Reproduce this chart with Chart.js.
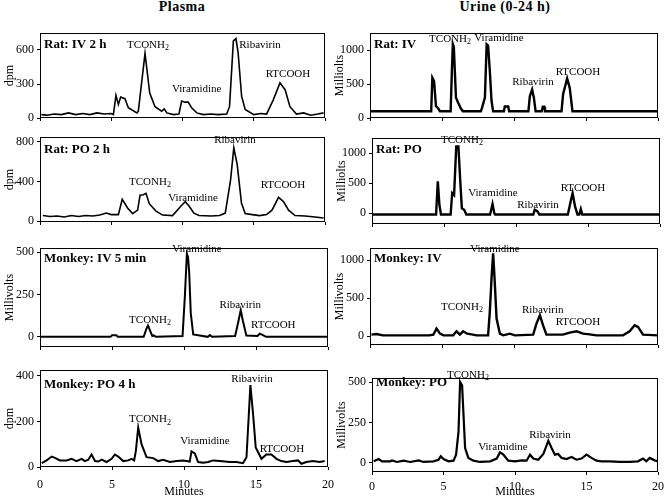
<!DOCTYPE html>
<html>
<head>
<meta charset="utf-8">
<script src="https://cdn.jsdelivr.net/npm/chart.js@4"></script>
<style>
  body { margin: 0; background: #fff; width: 664px; height: 498px; position: relative; overflow: hidden;
         font-family: "Liberation Serif", "Times New Roman", serif; }
  .col { position: absolute; top: 0; font-weight: bold; font-size: 14px; line-height: 14px;
         transform: translateX(-50%); letter-spacing: 0.5px; white-space: nowrap; }
  .panel { position: absolute; }
</style>
</head>
<body>
<div class="col" style="left:182px">Plasma</div>
<div class="col" style="left:505px">Urine (0-24 h)</div>
<script>
const FONT = "'Liberation Serif', 'Times New Roman', serif";

const minuteTicks = [0, 5, 10, 15, 20];
const peakNames = ["TCONH₂", "Viramidine", "Ribavirin", "RTCOOH"];

// Plasma, rat IV 2 h (dpm)
const ratIvPlasmaT = [0.1, 0.5, 1.0, 1.5, 2.0, 2.5, 3.0, 3.5, 4.0, 4.5, 5.0, 5.15, 5.33, 5.5, 5.66, 5.96, 6.2, 6.8, 6.9, 7.37,
  7.7, 8.07, 8.54, 8.72, 8.9, 9.36, 9.75, 9.94, 10.17, 10.4, 10.64, 11.0, 11.46, 12.0, 12.5, 13.1, 13.3, 13.57, 13.75, 13.9,
  14.15, 14.4, 15.0, 15.5, 15.9, 16.37, 16.84, 17.2, 17.54, 18.0, 18.5, 19.0, 19.5, 19.9];
const ratIvPlasmaV = [30, 25, 35, 30, 45, 30, 40, 30, 45, 35, 40, 30, 200, 120, 185, 170, 90, 45, 60, 570,
  220, 100, 60, 80, 45, 30, 35, 150, 140, 140, 90, 45, 30, 35, 30, 35, 100, 680, 700, 580,
  190, 75, 30, 40, 35, 160, 310, 250, 100, 35, 45, 25, 35, 45];
const ratIvPlasmaTicks = [0, 300, 600];

// Plasma, rat PO 2 h (dpm)
const ratPoPlasmaT = [0.2, 0.7, 1.2, 1.7, 2.2, 2.7, 3.2, 3.7, 4.2, 4.65, 5.0, 5.5, 5.77, 6.16, 6.5, 6.85, 7.02, 7.25, 7.44,
  7.67, 8.14, 8.6, 9.3, 9.88, 10.19, 10.47, 10.8, 11.16, 12.0, 12.6, 13.0, 13.37, 13.6, 13.84, 14.14, 14.4, 14.9, 15.4, 15.9,
  16.28, 16.74, 17.1, 17.44, 17.9, 18.6, 19.3, 19.9];
const ratPoPlasmaV = [55, 45, 50, 40, 55, 45, 55, 50, 60, 80, 65, 65, 220, 130, 75, 110, 260, 265, 280,
  175, 100, 60, 55, 150, 195, 150, 80, 55, 50, 55, 80, 410, 740, 570, 180, 75, 65, 55, 65,
  110, 240, 195, 110, 55, 50, 40, 30];
const ratPoPlasmaTicks = [0, 400, 800];

// Plasma, monkey IV 5 min (mV)
const monkeyIvPlasmaT = [0, 4.9, 5.0, 5.3, 5.4, 7.2, 7.38, 7.5, 7.65, 7.8, 7.9, 8.05, 9.9, 10.06, 10.2,
  10.28, 10.36, 10.47, 10.64, 11.65, 11.8, 11.95, 13.55, 13.75, 13.94, 14.1, 14.33, 15.1, 15.26, 15.45, 15.7, 20];
const monkeyIvPlasmaV = [0, 0, 10, 10, 0, 0, 45, 67, 35, 5, 8, 0, 5, 240, 490,
  470, 380, 140, 14, 0, 10, 0, 5, 80, 157, 90, 8, 5, 18, 12, 0, 0];
const monkeyIvPlasmaTicks = [0, 250, 500];

// Plasma, monkey PO 4 h (dpm)
const monkeyPoPlasmaT = [0.12, 0.46, 0.81, 1.04, 1.39, 1.85, 2.2, 2.54, 2.89, 3.12, 3.35, 3.58, 3.82, 4.05, 4.28, 4.62, 4.97,
  5.2, 5.43, 5.78, 6.13, 6.36, 6.54, 6.66, 6.82, 7.05, 7.4, 7.86, 8.21, 8.55, 9.02, 9.48, 9.94, 10.4, 10.52, 10.75, 10.98,
  11.33, 11.68, 12.02, 12.49, 13.18, 13.64, 14.1, 14.34, 14.5, 14.61, 14.8, 14.98, 15.38, 15.72, 16.07, 16.42, 16.76,
  17.11, 17.57, 17.92, 18.15, 18.5, 18.96, 19.42, 19.77];
const monkeyPoPlasmaV = [17, 29, 46, 40, 29, 29, 36, 26, 36, 26, 32, 55, 26, 24, 32, 22, 36,
  55, 46, 26, 29, 36, 29, 72, 173, 100, 43, 39, 26, 32, 22, 26, 29, 24, 69, 60, 22,
  19, 22, 29, 26, 22, 22, 17, 43, 230, 360, 230, 86, 36, 55, 55, 36, 26,
  22, 26, 29, 14, 22, 26, 22, 26];
const monkeyPoPlasmaTicks = [0, 200, 400];

// Urine, rat IV (mV)
const ratIvUrineT = [0, 4.25, 4.33, 4.45, 4.58, 4.74, 4.86, 5.6, 5.68, 5.75, 5.82, 5.97, 6.13, 6.31, 6.45, 7.7, 7.78, 7.98,
  8.1, 8.2, 8.32, 8.44, 8.55, 9.3, 9.36, 9.6, 9.66, 11.0, 11.1, 11.26, 11.38, 11.5, 11.92, 12.0, 12.1, 12.15, 13.3, 13.41,
  13.69, 13.87, 14.06, 20];
const ratIvUrineV = [100, 100, 595, 545, 175, 140, 100, 100, 650, 1090, 1050, 300, 220, 140, 100, 100, 150, 300,
  1090, 1070, 700, 250, 100, 100, 170, 170, 100, 100, 320, 420, 300, 100, 100, 165, 165, 100, 100, 350,
  585, 445, 100, 100];
const ratIvUrineTicks = [0, 500, 1000];

// Urine, rat PO (mV)
const ratPoUrineT = [0, 4.45, 4.57, 4.68, 4.79, 5.46, 5.57, 5.7, 5.85, 6.0, 6.13, 6.24, 6.4, 6.55, 8.2, 8.37, 8.49, 8.55,
  11.2, 11.3, 11.48, 11.62, 13.6, 13.75, 13.93, 14.1, 14.27, 14.39, 14.5, 14.6, 20];
const ratPoUrineV = [-25, -25, 530, 140, -25, -25, 333, 300, 1110, 1110, 530, 80, 55, -25, -25, 150, 0, -25,
  -25, 55, 30, -25, -25, 140, 333, 110, -25, -25, 67, -25, -25];
const ratPoUrineTicks = [0, 500, 1000];

// Urine, monkey IV (mV)
const monkeyIvUrineT = [0.1, 0.46, 0.9, 4.1, 4.4, 4.62, 4.86, 5.1, 5.78, 6.01, 6.24, 6.47, 6.75, 7.05, 7.4, 8.2, 8.32, 8.44,
  8.55, 8.65, 8.79, 9.02, 9.25, 9.71, 10.06, 11.33, 11.56, 11.8, 12.02, 12.25, 13.4, 13.87, 14.34, 14.8, 15.26, 15.72,
  17.57, 18.03, 18.38, 18.61, 18.96, 20];
const monkeyIvUrineV = [18, 27, 9, 9, 18, 97, 31, 9, 9, 62, 18, 62, 31, 22, 9, 9, 317, 758,
  1088, 758, 229, 31, 9, 31, 9, 18, 163, 273, 141, 18, 18, 44, 62, 31, 22, 9,
  9, 62, 141, 120, 18, 9];
const monkeyIvUrineTicks = [0, 500, 1000];

// Urine, monkey PO (mV)
const monkeyPoUrineT = [0.12, 0.47, 0.7, 1.28, 1.4, 1.74, 2.21, 2.67, 3.26, 3.6, 4.3, 4.65, 4.81, 5.0, 5.35, 5.7, 5.88,
  6.05, 6.16, 6.3, 6.4, 6.51, 6.74, 7.09, 7.56, 8.26, 8.72, 8.95, 9.19, 9.53, 10.0, 10.47, 10.81, 11.05, 11.28, 11.63,
  11.98, 12.33, 12.56, 12.79, 13.02, 13.26, 13.6, 13.95, 14.3, 14.65, 15.0, 15.35, 15.7, 16.05, 16.63, 17.33, 18.02,
  18.6, 18.95, 19.19, 19.42, 19.77, 20.0];
const monkeyPoUrineV = [10, 24, 10, 10, 16, 6, 14, 6, 16, 6, 10, 20, 41, 24, 10, 14, 51,
  194, 500, 480, 296, 92, 31, 14, 6, 10, 27, 65, 51, 14, 10, 16, 14, 51, 27, 20,
  55, 137, 92, 51, 55, 31, 24, 37, 20, 27, 51, 31, 14, 10, 10, 6, 6,
  10, 27, 10, 31, 16, 10];
const monkeyPoUrineTicks = [0, 250, 500];

// box = [left, top, right, bottom] in page pixels
const panels = [
  { t: ratIvPlasmaT, v: ratIvPlasmaV, yTicks: ratIvPlasmaTicks, names: peakNames, title: "Rat: IV 2 h", yTitle: "dpm",
    box: [40, 33, 325, 118], yMin: 0, yMax: 750, lw: 1.6, titleDy: 12, xLabels: false,
    labelAt: [[7.58, 644], [11.0, 256], [15.44, 644], [17.4, 388]] },
  { t: ratPoPlasmaT, v: ratPoPlasmaV, yTicks: ratPoPlasmaTicks, names: peakNames, title: "Rat: PO 2 h", yTitle: "dpm",
    box: [40, 137, 325, 222], yMin: -10, yMax: 850, lw: 1.6, titleDy: 13, xLabels: false,
    labelAt: [[7.72, 395], [10.74, 233], [13.68, 820], [17.05, 364]] },
  { t: monkeyIvPlasmaT, v: monkeyIvPlasmaV, yTicks: monkeyIvPlasmaTicks, names: peakNames, title: "Monkey: IV 5 min", yTitle: "Millivolts",
    box: [40, 248, 328, 347], yMin: -60, yMax: 524, lw: 2, titleDy: 11, xLabels: false,
    labelAt: [[7.64, 99], [10.9, 518], [13.9, 188], [16.2, 70]] },
  { t: monkeyPoPlasmaT, v: monkeyPoPlasmaV, yTicks: monkeyPoPlasmaTicks, names: peakNames, title: "Monkey: PO 4 h", yTitle: "dpm",
    box: [40, 370, 328, 467], yMin: 0, yMax: 426, lw: 2, titleDy: 15, xLabels: true, tickPad: 8,
    labelAt: [[7.64, 209], [11.46, 113], [14.72, 387], [16.8, 78]] },
  { t: ratIvUrineT, v: ratIvUrineV, yTicks: ratIvUrineTicks, names: peakNames, title: "Rat: IV", yTitle: "Milliolts",
    box: [370, 33, 658, 118], yMin: 0, yMax: 1254, lw: 2.4, titleDy: 12, xLabels: false,
    labelAt: [[5.56, 1165], [8.96, 1180], [11.32, 531], [14.44, 678]] },
  { t: ratPoUrineT, v: ratPoUrineV, yTicks: ratPoUrineTicks, names: peakNames, title: "Rat: PO", yTitle: "Milliolts",
    box: [372, 138, 660, 224], yMin: -183, yMax: 1250, lw: 2.4, titleDy: 12, xLabels: false,
    labelAt: [[6.25, 1217], [8.4, 334], [11.53, 134], [14.65, 417]] },
  { t: monkeyIvUrineT, v: monkeyIvUrineV, yTicks: monkeyIvUrineTicks, names: peakNames, title: "Monkey: IV", yTitle: "Millivolts",
    box: [370, 248, 658, 345], yMin: -118, yMax: 1158, lw: 2.4, titleDy: 11, xLabels: false,
    labelAt: [[6.39, 382], [8.68, 1145], [12.0, 342], [14.44, 185]] },
  { t: monkeyPoUrineT, v: monkeyPoUrineV, yTicks: monkeyPoUrineTicks, names: peakNames.slice(0, 3), title: "Monkey: PO", yTitle: "Millivolts",
    box: [372, 378, 658, 472], yMin: -56, yMax: 525, lw: 2.2, titleDy: 5, xLabels: true, tickPad: 5,
    labelAt: [[6.71, 544], [9.16, 98], [12.45, 173]] },
];

function drawLabel(ctx, text, x, y) {
  ctx.textBaseline = "middle";
  if (text.includes("₂")) {
    const main = text.replace("₂", "");
    ctx.font = "11px " + FONT;
    const w1 = ctx.measureText(main).width;
    ctx.font = "8px " + FONT;
    const w2 = ctx.measureText("2").width;
    const x0 = x - (w1 + w2) / 2;
    ctx.textAlign = "left";
    ctx.font = "11px " + FONT;
    ctx.fillText(main, x0, y);
    ctx.font = "8px " + FONT;
    ctx.fillText("2", x0 + w1, y + 3);
  } else {
    ctx.font = "11px " + FONT;
    ctx.textAlign = "center";
    ctx.fillText(text, x, y);
  }
}

function makeDecor(p) {
  return {
    id: "decor",
    afterDraw(chart) {
      const { ctx, chartArea: a, scales: { x, y } } = chart;
      ctx.save();
      ctx.strokeStyle = "#000";
      ctx.lineWidth = 1;
      ctx.strokeRect(Math.round(a.left) + 0.5, Math.round(a.top) + 0.5,
        Math.round(a.right - a.left) - 1, Math.round(a.bottom - a.top) - 1);
      ctx.fillStyle = "#000";
      ctx.font = "bold 13px " + FONT;
      ctx.textAlign = "left";
      ctx.textBaseline = "middle";
      ctx.fillText(p.title, a.left + 4, a.top + p.titleDy);
      p.names.forEach((n, i) => {
        drawLabel(ctx, n, x.getPixelForValue(p.labelAt[i][0]), y.getPixelForValue(p.labelAt[i][1]));
      });
      ctx.restore();
    },
  };
}

panels.forEach((p) => {
  const [L, T, R, B] = p.box;
  // bottom row: x axis tall enough that "Minutes" sits at y ~492
  const bottom = p.xLabels ? 499 - B : 6;
  const div = document.createElement("div");
  div.className = "panel";
  div.style.left = L - 40 + "px";
  div.style.top = T - 12 + "px";
  div.style.width = R - L + 48 + "px";
  div.style.height = B - T + 12 + bottom + "px";
  const canvas = document.createElement("canvas");
  div.appendChild(canvas);
  document.body.appendChild(div);

  new Chart(canvas, {
    type: "line",
    data: {
      datasets: [
        {
          data: p.t.map((t, i) => ({ x: t, y: p.v[i] })),
          borderColor: "#000",
          borderWidth: p.lw,
          pointRadius: 0,
          tension: 0,
          fill: false,
        },
      ],
    },
    options: {
      responsive: true,
      maintainAspectRatio: false,
      animation: false,
      layout: { padding: { top: 12, right: 8, left: 0, bottom: 0 } },
      plugins: { legend: { display: false }, tooltip: { enabled: false } },
      scales: {
        x: {
          type: "linear",
          min: 0,
          max: 20,
          afterBuildTicks: (s) => { s.ticks = minuteTicks.map((v) => ({ value: v })); },
          afterFit: (s) => { s.height = bottom; s.paddingLeft = 0; s.paddingRight = 0; },
          grid: { drawOnChartArea: false, tickLength: 3, color: "#000" },
          border: { display: false },
          ticks: { display: p.xLabels, color: "#000", padding: p.tickPad || 0, maxRotation: 0,
                   callback: (v) => String(v), font: { family: FONT, size: 12 } },
          title: { display: p.xLabels, text: "Minutes", color: "#000", padding: { top: 0, bottom: 0 }, font: { family: FONT, size: 12 } },
        },
        y: {
          min: p.yMin,
          max: p.yMax,
          afterBuildTicks: (s) => { s.ticks = p.yTicks.map((v) => ({ value: v })); },
          afterFit: (s) => { s.width = 40; s.paddingTop = 0; s.paddingBottom = 0; },
          grid: { drawOnChartArea: false, tickLength: 3, color: "#000" },
          border: { display: false },
          ticks: { color: "#000", padding: 3, callback: (v) => String(v), font: { family: FONT, size: 12 } },
          title: { display: true, text: p.yTitle, color: "#000", padding: { top: 3, bottom: 0 }, font: { family: FONT, size: 12 } },
        },
      },
    },
    plugins: [makeDecor(p)],
  });
});
</script>
</body>
</html>
